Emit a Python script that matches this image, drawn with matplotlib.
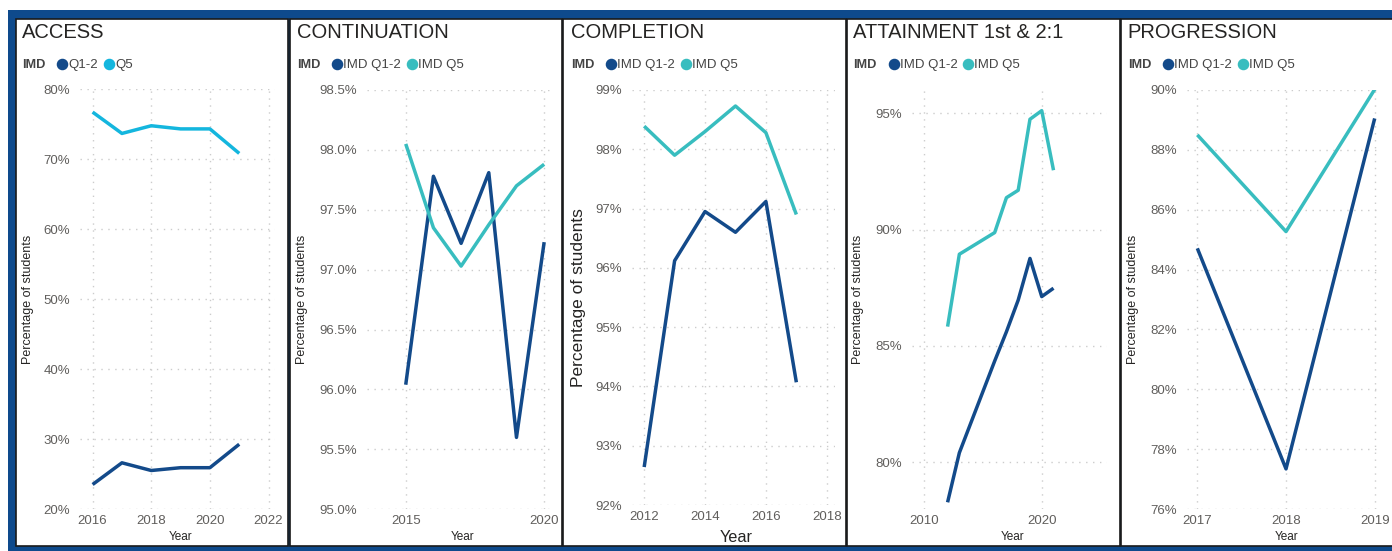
import matplotlib
matplotlib.use("Agg")
import matplotlib.pyplot as plt
from matplotlib.patches import Rectangle
from matplotlib.lines import Line2D
from matplotlib.ticker import FuncFormatter

plt.rcParams['font.family'] = ['Liberation Sans', 'DejaVu Sans']

W, H = 1392, 551

# ---- datos ----
access_years = [2016, 2017, 2018, 2019, 2020, 2021]
access_q12 = [23.5, 26.6, 25.5, 25.9, 25.9, 29.25]
access_q5 = [76.7, 73.65, 74.75, 74.3, 74.3, 70.8]

cont_years = [2015, 2016, 2017, 2018, 2019, 2020]
cont_q12 = [96.04, 97.78, 97.22, 97.81, 95.6, 97.23]
cont_q5 = [98.05, 97.35, 97.03, 97.375, 97.7, 97.88]

comp_years = [2012, 2013, 2014, 2015, 2016, 2017]
comp_q12 = [92.64, 96.12, 96.95, 96.6, 97.12, 94.07]
comp_q5 = [98.39, 97.9, 98.3, 98.73, 98.28, 96.9]

att_years = [2012, 2013, 2016, 2017, 2018, 2019, 2020, 2021]
att_q12 = [78.28, 80.41, 84.35, 85.61, 86.97, 88.76, 87.12, 87.48]
att_q5 = [85.83, 88.94, 89.87, 91.37, 91.69, 94.74, 95.11, 92.55]

prog_years = [2017, 2018, 2019]
prog_q12 = [84.71, 77.34, 89.05]
prog_q5 = [88.5, 85.27, 90.02]

dark_blue = '#134A8A'
cyan = '#14B6DE'
teal = '#38BDBF'
frame = '#0E4A8C'
txt = '#252423'
tick_c = '#605E5C'

fig = plt.figure(figsize=(W / 100, H / 100), dpi=100)

# marco azul y paneles (por debajo de los ejes)
fig.add_artist(Rectangle((8 / W, 0), 1 - 8 / W, 1 - 10 / H, transform=fig.transFigure,
                         facecolor=frame, edgecolor='none', zorder=-2))
paneles = [(16, 288), (290, 562), (563, 846), (847, 1120), (1121, 1394)]
for x0, x1 in paneles:
    fig.add_artist(Rectangle((x0 / W, 1 - 546 / H), (x1 - x0) / W, (546 - 19) / H,
                             transform=fig.transFigure, facecolor='white',
                             edgecolor='#1a1a1a', linewidth=1.2, zorder=-1))

renderer = fig.canvas.get_renderer()


def leyenda(x, y, etiquetas, colores):
    t = fig.text(x / W, 1 - (y + 2) / H, 'IMD', fontsize=9.2, fontweight='bold',
                 color='#444444', va='center', ha='left')
    xp = t.get_window_extent(renderer).x1 + 12
    for et, c in zip(etiquetas, colores):
        fig.add_artist(Line2D([(xp + 5) / W], [1 - (y + 1) / H], marker='o', markersize=7.3,
                              color=c, linestyle='none', transform=fig.transFigure))
        t = fig.text((xp + 11) / W, 1 - (y + 2) / H, et, fontsize=9.5, color='#444444',
                     va='center', ha='left')
        xp = t.get_window_extent(renderer).x1 + 6


def panel(caja, titulo, xt, years, q12, q5, col5, xlim, ylim, xticks, yticks, fmt,
          etiquetas, ylab_x, grande=False):
    x0, y0, x1, y1 = caja
    ax = fig.add_axes([x0 / W, 1 - y1 / H, (x1 - x0) / W, (y1 - y0) / H])
    ax.set_zorder(1)
    ax.plot(years, q12, color=dark_blue, linewidth=2.5, solid_capstyle='butt')
    ax.plot(years, q5, color=col5, linewidth=2.5, solid_capstyle='butt')
    ax.set_xlim(*xlim)
    ax.set_ylim(*ylim)
    ax.set_xticks(xticks)
    ax.set_yticks(yticks)
    ax.yaxis.set_major_formatter(FuncFormatter(lambda v, p: fmt.format(v)))
    ax.grid(True, color='#cccccc', linestyle=(0, (1, 4)), linewidth=1)
    ax.set_axisbelow(True)
    for s in ax.spines.values():
        s.set_visible(False)
    ax.tick_params(length=0, labelsize=9.5, labelcolor=tick_c)
    ax.tick_params(axis='y', pad=7)
    ax.tick_params(axis='x', pad=4)
    ax.patch.set_alpha(0)

    fig.text(xt / W, 1 - 32 / H, titulo, fontsize=14.5, color=txt, va='center', ha='left')
    leyenda(xt, 63, etiquetas, [dark_blue, col5])
    fs_lab = 12.5 if grande else 9
    fs_year = 11.7 if grande else 8.5
    fig.text(ylab_x / W, 1 - ((y0 + y1) / 2) / H, 'Percentage of students', rotation=90,
             fontsize=fs_lab, color=txt, ha='center', va='center')
    fig.text(((x0 + x1) / 2 + 3) / W, 1 - 537 / H, 'Year', fontsize=fs_year, color=txt,
             ha='center', va='center')
    return ax


panel((80, 89, 275, 509), 'ACCESS', 22, access_years, access_q12, access_q5, cyan,
      (2015.57, 2022.22), (20, 80), [2016, 2018, 2020, 2022], range(20, 81, 10), '{:.0f}%',
      ['Q1-2', 'Q5'], 28)

panel((366.7, 90, 553.3, 509.3), 'CONTINUATION', 296.7, cont_years, cont_q12, cont_q5, teal,
      (2013.59, 2020.33), (95.0, 98.5), [2015, 2020], [95.0, 95.5, 96.0, 96.5, 97.0, 97.5, 98.0, 98.5],
      '{:.1f}%', ['IMD Q1-2', 'IMD Q5'], 301.7)

panel((631.7, 90, 835, 505), 'COMPLETION', 571, comp_years, comp_q12, comp_q5, teal,
      (2011.59, 2018.27), (92, 99), [2012, 2014, 2016, 2018], range(92, 100), '{:.0f}%',
      ['IMD Q1-2', 'IMD Q5'], 578, grande=True)

panel((911.7, 89, 1106.7, 509.3), 'ATTAINMENT 1st & 2:1', 853.3, att_years, att_q12, att_q5, teal,
      (2008.95, 2025.52), (77.98, 96.04), [2010, 2020], [80, 85, 90, 95], '{:.0f}%',
      ['IMD Q1-2', 'IMD Q5'], 858)

panel((1186.7, 90, 1380, 509), 'PROGRESSION', 1127.7, prog_years, prog_q12, prog_q5, teal,
      (2016.88, 2019.06), (76, 90), [2017, 2018, 2019], range(76, 91, 2), '{:.0f}%',
      ['IMD Q1-2', 'IMD Q5'], 1133)

fig.savefig('out.png', dpi=100)
